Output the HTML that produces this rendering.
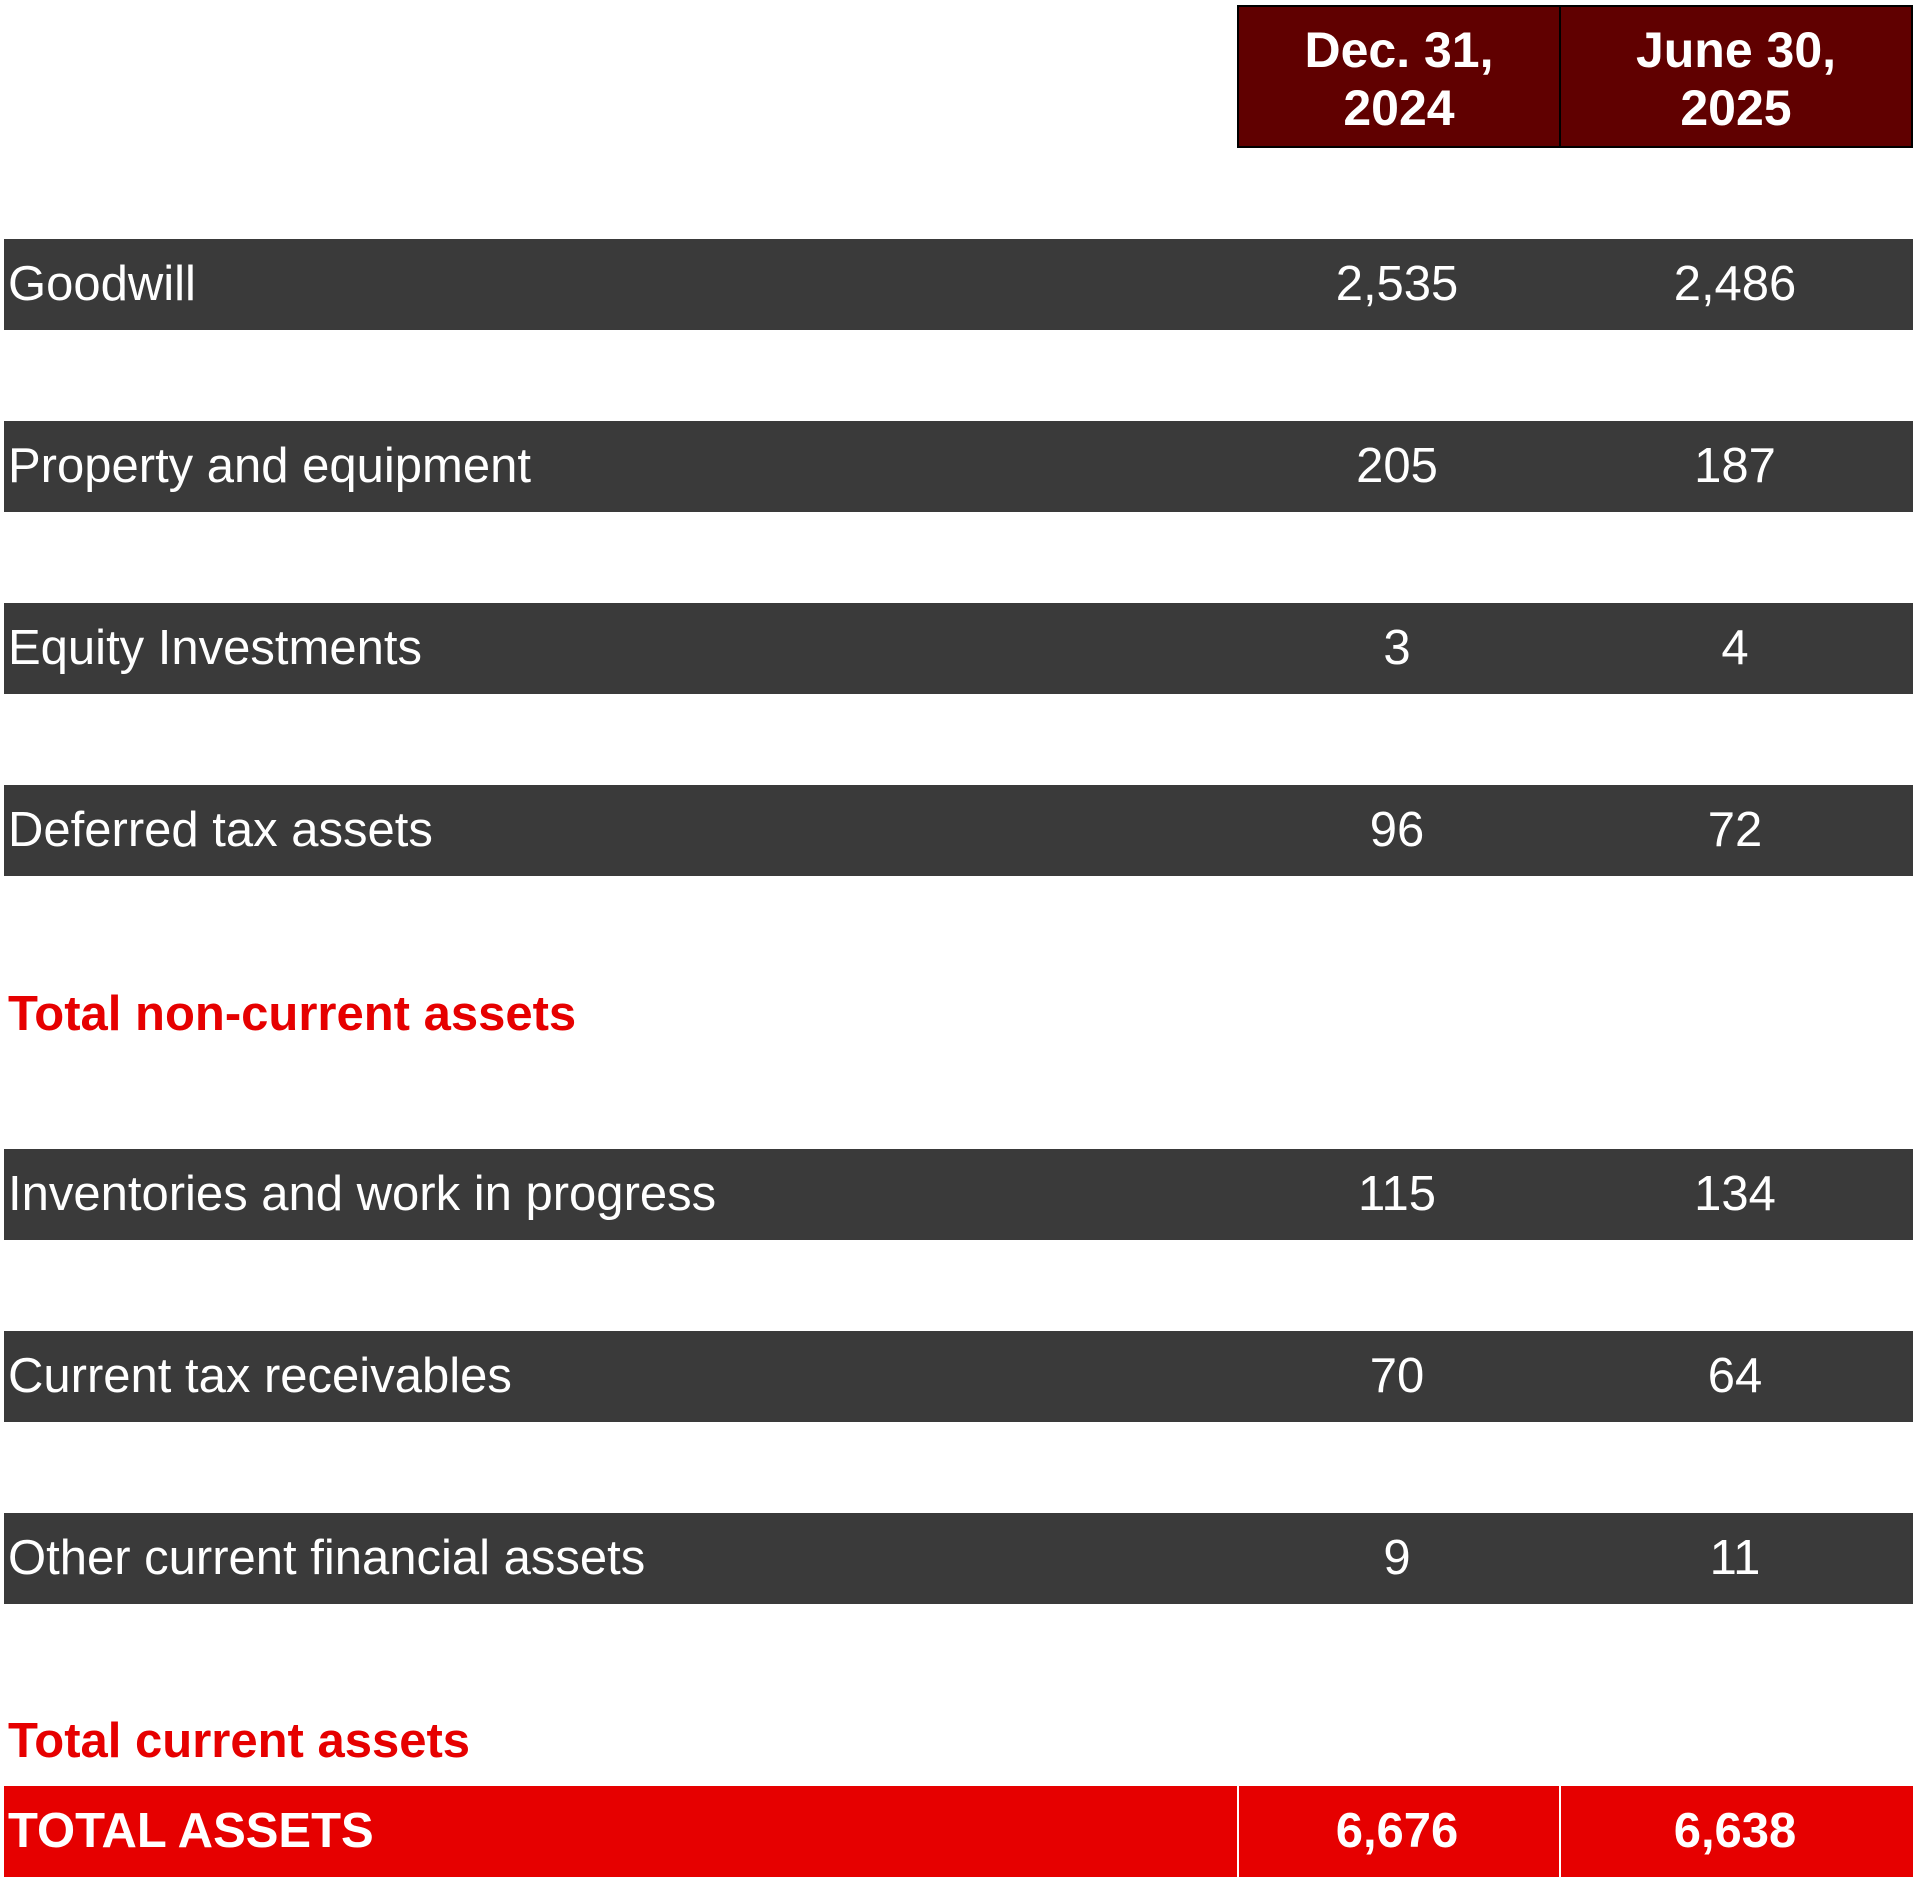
<!DOCTYPE html>
<html><head><meta charset="utf-8"><style>
body{margin:0;width:1920px;height:1897px;background:#fff;position:relative;overflow:hidden;font-family:"Liberation Sans",sans-serif}
.a{position:absolute;box-sizing:border-box}
.row{left:4px;width:1909px;height:91px;background:#3a3a3a;color:#fff;font-size:49px}
.lbl{position:absolute;left:4px;top:0;line-height:91px;white-space:nowrap}
.v{position:absolute;top:0;line-height:91px;width:300px;text-align:center}
.v1{left:1243px}.v2{left:1581px}
.red{left:8px;color:#e60000;font-weight:bold;font-size:49px;line-height:60px}
.hd{top:5px;height:143px;background:#600000;border:2px solid #000;color:#fff;font-weight:bold;font-size:50px;line-height:58px;text-align:center;padding-top:14px}
</style></head><body>
<div class="a hd" style="left:1237px;width:324px">Dec. 31,<br>2024</div>
<div class="a hd" style="left:1559px;width:354px">June 30,<br>2025</div>

<div class="a row" style="top:239px"><span class="lbl">Goodwill</span><span class="v v1">2,535</span><span class="v v2">2,486</span></div>
<div class="a row" style="top:421px"><span class="lbl">Property and equipment</span><span class="v v1">205</span><span class="v v2">187</span></div>
<div class="a row" style="top:603px"><span class="lbl">Equity Investments</span><span class="v v1">3</span><span class="v v2">4</span></div>
<div class="a row" style="top:785px"><span class="lbl">Deferred tax assets</span><span class="v v1">96</span><span class="v v2">72</span></div>
<div class="a red" style="top:984px">Total non-current assets</div>
<div class="a row" style="top:1149px"><span class="lbl">Inventories and work in progress</span><span class="v v1">115</span><span class="v v2">134</span></div>
<div class="a row" style="top:1331px"><span class="lbl">Current tax receivables</span><span class="v v1">70</span><span class="v v2">64</span></div>
<div class="a row" style="top:1513px"><span class="lbl">Other current financial assets</span><span class="v v1">9</span><span class="v v2">11</span></div>
<div class="a red" style="top:1711px">Total current assets</div>
<div class="a row" style="top:1786px;background:#e60000;font-weight:bold">
<span class="lbl">TOTAL ASSETS</span>
<div style="position:absolute;left:1233px;top:0;width:2px;height:91px;background:#fff"></div>
<div style="position:absolute;left:1555px;top:0;width:2px;height:91px;background:#fff"></div>
<span class="v v1">6,676</span><span class="v v2">6,638</span></div>
</body></html>
